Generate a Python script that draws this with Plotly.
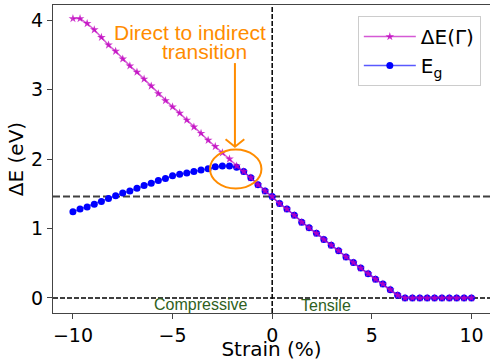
import plotly.graph_objects as go

# Strain grid (%): compressive side 29 points, tensile side 27 points after 0
strain_comp = [-10.0, -9.643, -9.286, -8.929, -8.571, -8.214, -7.857, -7.5, -7.143, -6.786,
               -6.429, -6.071, -5.714, -5.357, -5.0, -4.643, -4.286, -3.929, -3.571, -3.214,
               -2.857, -2.5, -2.143, -1.786, -1.429, -1.071, -0.714, -0.357, 0.0]
strain_tens = [0.37, 0.741, 1.111, 1.481, 1.852, 2.222, 2.593, 2.963, 3.333, 3.704,
               4.074, 4.444, 4.815, 5.185, 5.556, 5.926, 6.296, 6.667, 7.037, 7.407,
               7.778, 8.148, 8.519, 8.889, 9.259, 9.63, 10.0]

dE_gamma_comp = [4.02, 4.02, 3.95, 3.86, 3.75, 3.64, 3.55, 3.44, 3.34, 3.25,
                 3.15, 3.05, 2.94, 2.84, 2.75, 2.66, 2.56, 2.46, 2.37, 2.27,
                 2.18, 2.09, 2.00, 1.90, 1.82, 1.73, 1.63, 1.54, 1.46]
eg_comp = [1.24, 1.28, 1.31, 1.35, 1.39, 1.43, 1.47, 1.51, 1.54, 1.58,
           1.62, 1.65, 1.69, 1.72, 1.76, 1.78, 1.80, 1.82, 1.84, 1.86,
           1.89, 1.90, 1.90, 1.88, 1.82, 1.73, 1.63, 1.54, 1.46]
tens_vals = [1.36, 1.28, 1.19, 1.09, 1.01, 0.93, 0.84, 0.76, 0.68, 0.59,
             0.51, 0.43, 0.35, 0.27, 0.20, 0.12, 0.04, 0.0, 0.0, 0.0,
             0.0, 0.0, 0.0, 0.0, 0.0, 0.0, 0.0]

strain = strain_comp + strain_tens
dE_gamma = dE_gamma_comp + tens_vals
eg = eg_comp + tens_vals

gap_ref = 1.46
x_ticks = [-10, -5, 0, 5, 10]
y_ticks = [0, 1, 2, 3, 4]

ORANGE = "#ff8c00"
GREEN = "#2f5f22"
AX = "#444444"

fig = go.Figure()
fig.add_trace(go.Scatter(
    x=strain, y=eg, mode="lines+markers", name="E<sub>g</sub>", legendrank=2,
    line=dict(color="rgba(0,0,255,0.65)", width=1.5),
    marker=dict(color="#0000ff", size=7, symbol="circle")))
fig.add_trace(go.Scatter(
    x=strain, y=dE_gamma, mode="lines+markers", name="ΔE(Γ)", legendrank=1,
    line=dict(color="rgba(191,0,191,0.65)", width=1.5),
    marker=dict(color="rgba(191,0,191,0.8)", size=6.5, symbol="star")))

shapes = [
    dict(type="line", xref="paper", yref="y", x0=0, x1=1, y0=gap_ref, y1=gap_ref,
         line=dict(color="#404040", width=2, dash="7px,3px"), layer="below"),
    dict(type="line", xref="paper", yref="y", x0=0, x1=1, y0=0, y1=0,
         line=dict(color="black", width=1.5, dash="5px,2px"), layer="below"),
    dict(type="line", xref="x", yref="paper", x0=0, x1=0, y0=0, y1=1,
         line=dict(color="black", width=1.5, dash="5px,2px"), layer="below"),
    dict(type="circle", xref="x", yref="y", x0=-3.12, x1=-0.54, y0=1.576, y1=2.137,
         line=dict(color=ORANGE, width=2), layer="above"),
    dict(type="line", xref="x", yref="y", x0=-1.87, x1=-1.87, y0=3.38, y1=2.18,
         line=dict(color=ORANGE, width=2), layer="above"),
    dict(type="path", xref="x", yref="y",
         path="M -2.34 2.283 L -1.87 2.177 L -1.40 2.283",
         line=dict(color=ORANGE, width=2), layer="above"),
]

annotations = [
    dict(x=-4.12, y=3.82, xref="x", yref="y", text="Direct to indirect", showarrow=False,
         font=dict(family="Liberation Sans", size=21, color=ORANGE), xanchor="center", yanchor="middle"),
    dict(x=-3.40, y=3.54, xref="x", yref="y", text="transition", showarrow=False,
         font=dict(family="Liberation Sans", size=21, color=ORANGE), xanchor="center", yanchor="middle"),
    dict(x=-3.62, y=-0.09, xref="x", yref="y", text="Compressive", showarrow=False,
         font=dict(family="Liberation Sans", size=16, color=GREEN), xanchor="center", yanchor="middle"),
    dict(x=2.7, y=-0.11, xref="x", yref="y", text="Tensile", showarrow=False,
         font=dict(family="Liberation Sans", size=16, color=GREEN), xanchor="center", yanchor="middle"),
]

fig.update_layout(
    width=490, height=361,
    margin=dict(l=53, r=0, t=5, b=48, autoexpand=False),
    paper_bgcolor="white", plot_bgcolor="white",
    font=dict(family="DejaVu Sans", size=19, color="black"),
    shapes=shapes, annotations=annotations,
    showlegend=True,
    legend=dict(x=0.979, y=0.964, xanchor="right", yanchor="top",
                bgcolor="white", bordercolor="#cccccc", borderwidth=1,
                itemwidth=52, tracegroupgap=0,
                font=dict(family="DejaVu Sans", size=20)),
)
fig.update_xaxes(range=[-11, 10.93], tickvals=x_ticks, showgrid=False, zeroline=False,
                 showline=True, linecolor=AX, linewidth=1.3, mirror=True,
                 ticks="outside", ticklen=5, tickcolor=AX, automargin=False,
                 tickfont=dict(size=19),
                 title=dict(text="Strain (%)", font=dict(size=20), standoff=2))
fig.update_yaxes(range=[-0.216, 4.216], tickvals=y_ticks, showgrid=False, zeroline=False,
                 showline=True, linecolor=AX, linewidth=1.3, mirror=True,
                 ticks="outside", ticklen=5, tickcolor=AX, automargin=False,
                 tickfont=dict(size=19),
                 title=dict(text="ΔE (eV)", font=dict(size=20), standoff=1))

fig.write_html("out.html", config={"displayModeBar": False},
               post_script="document.body.style.margin='0';document.body.style.overflow='hidden';")
